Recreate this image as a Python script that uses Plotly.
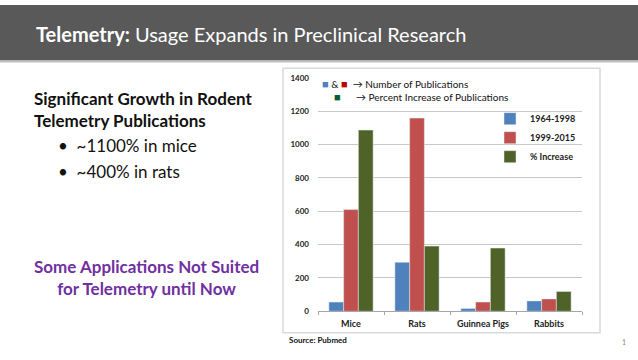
import plotly.graph_objects as go

categories = ["Mice", "Rats", "Guinnea Pigs", "Rabbits"]
pubs_1964_1998 = [55, 294, 17, 62]
pubs_1999_2015 = [610, 1159, 55, 74]
pct_increase = [1087, 391, 379, 119]
y_ticks = [0, 200, 400, 600, 800, 1000, 1200, 1400]

W, H = 638, 360
def px(x): return x / W
def py(y): return 1 - y / H

FONT = "Lato"
fig = go.Figure()
fig.add_bar(x=categories, y=pubs_1964_1998, name="1964-1998", marker_color="#4F81BD")
fig.add_bar(x=categories, y=pubs_1999_2015, name="1999-2015", marker_color="#C0504D")
fig.add_bar(x=categories, y=pct_increase, name="% Increase", marker_color="#4F6228")

shapes = [
    dict(type="rect", xref="paper", yref="paper", x0=0, x1=1, y0=py(57), y1=1,
         fillcolor="#595959", line_width=0, layer="below"),
    dict(type="line", xref="paper", yref="paper", x0=0, x1=1, y0=py(58), y1=py(58),
         line=dict(color="#BFBFBF", width=2)),
    dict(type="rect", xref="paper", yref="paper", x0=px(283), x1=px(600), y0=py(337), y1=py(65),
         fillcolor="white", line=dict(color="#D9D9D9", width=1.5), layer="below"),
]

def ann(text, x, y, size, color="#111111", xanchor="left", align="left"):
    return dict(text=text, x=px(x), y=py(y), xref="paper", yref="paper",
                xanchor=xanchor, yanchor="middle", align=align, showarrow=False,
                font=dict(family=FONT, size=size, color=color))

SQ = "<span style='color:%s;font-size:11px'>■</span>"
annotations = [
    ann("<b>Telemetry:</b> Usage Expands in Preclinical Research", 34, 30, 20, "white"),
    ann("<b>Significant Growth in Rodent<br>Telemetry Publications</b>", 32, 107, 17),
    ann("•  ~1100% in mice", 56, 145, 17),
    ann("•  ~400% in rats", 56, 171, 17),
    ann("<b>Some Applications Not Suited<br>for Telemetry until Now</b>", 146, 280, 17,
        "#7030A0", "center", "center"),
    ann((SQ % "#4F81BD") + " & " + (SQ % "#C00000") + "  → Number of Publications", 320, 81, 10),
    ann((SQ % "#006030") + "      → Percent Increase of Publications", 332, 94, 10),
    ann("<b>Source: Pubmed</b>", 287, 345, 8),
    ann("1", 624, 347, 7, "#888888", "center", "center"),
]

fig.update_layout(
    width=W, height=H, margin=dict(l=0, r=0, t=0, b=0),
    paper_bgcolor="white", plot_bgcolor="rgba(0,0,0,0)",
    barmode="group", bargap=0.33, bargroupgap=0,
    shapes=shapes, annotations=annotations,
    legend=dict(x=px(490), y=py(102), xanchor="left", yanchor="top",
                font=dict(family=FONT, size=9, color="#222222", weight="bold"),
                bgcolor="rgba(0,0,0,0)", itemwidth=30, tracegroupgap=0),
    xaxis=dict(domain=[px(318), px(582)], showgrid=False, showline=True, linecolor="#A6A6A6",
               ticks="outside", tickson="boundaries", ticklen=3, tickcolor="#A6A6A6",
               tickangle=0, ticklabelstandoff=4,
               tickfont=dict(family=FONT, size=9, color="#222222", weight="bold")),
    yaxis=dict(domain=[py(315), py(75)], range=[0, 1400], tickvals=y_ticks,
               showgrid=True, gridcolor="#C8C8C8", zeroline=False, showline=False,
               ticks="", ticklen=0, ticklabelstandoff=8,
               tickfont=dict(family=FONT, size=8, color="#222222", weight="bold")),
    showlegend=True,
)
post = (
    "var d=document.documentElement,b=document.body;"
    "d.style.margin='0';d.style.overflow='hidden';"
    "b.style.margin='0';b.style.overflow='hidden';"
)
fig.write_html("out.html", config={"displayModeBar": False}, post_script=post)
